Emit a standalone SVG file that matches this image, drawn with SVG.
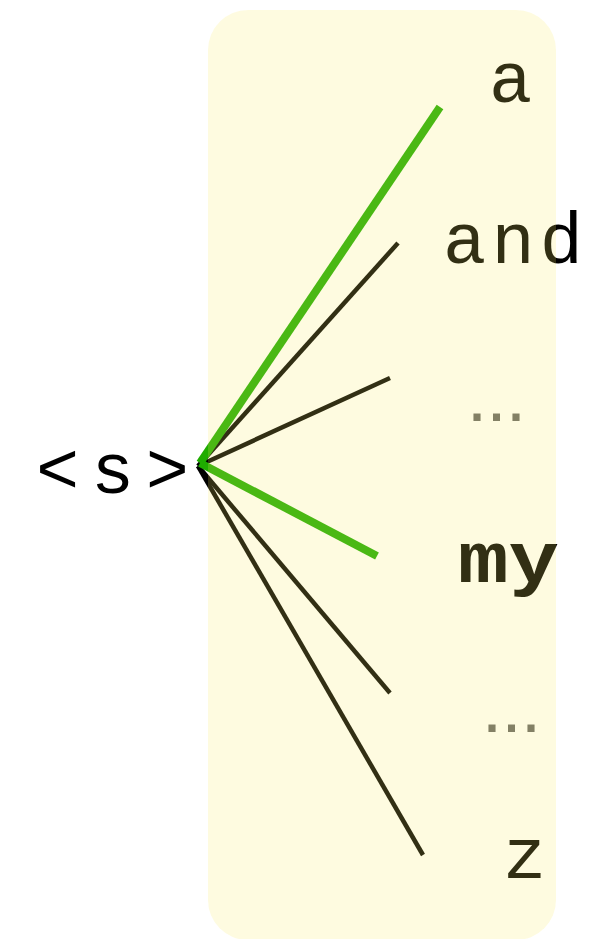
<svg xmlns="http://www.w3.org/2000/svg" width="591" height="939" viewBox="0 0 591 939">
<style>
.lbl{font-family:"Liberation Mono","Courier New",monospace;font-size:72px;fill:#000}
.dots{font-family:"Liberation Mono","Courier New",monospace;font-size:50px;font-weight:bold;fill:#666}
.e{stroke:#000;stroke-width:4.5;stroke-linecap:butt;fill:none}
.g{stroke:#1fac00;stroke-width:8;stroke-linecap:butt;fill:none}
</style>
<rect width="591" height="939" fill="#fff"/>
<g id="connectors">
<line class="e" x1="198" y1="466" x2="398" y2="243"/>
<line class="e" x1="198" y1="466" x2="390" y2="378"/>
<line class="e" x1="198" y1="466" x2="390" y2="693"/>
<line class="e" x1="198" y1="466" x2="423" y2="855"/>
<line class="g" x1="200" y1="463" x2="440" y2="107"/>
<line class="g" x1="200" y1="463" x2="377" y2="556"/>
</g>
<g id="start"><text class="lbl" x="36" y="493" font-size="64" textLength="153" lengthAdjust="spacing">&lt;s&gt;</text></g>
<g id="n-a"><text class="lbl" x="489" y="102">a</text></g>
<g id="n-and"><text class="lbl" x="443" y="263" textLength="140" lengthAdjust="spacing">and</text></g>
<g id="n-dots1"><text class="dots" x="462" y="421" textLength="69" lengthAdjust="spacing">...</text></g>
<g id="n-my"><text class="lbl" x="458" y="582" font-size="78" font-weight="bold" textLength="101" lengthAdjust="spacingAndGlyphs">my</text></g>
<g id="n-dots2"><text class="dots" x="477" y="732" textLength="69" lengthAdjust="spacing">...</text></g>
<g id="n-z"><text class="lbl" x="503" y="878">z</text></g>
<g id="box"><rect x="208" y="10" width="348" height="930" rx="40" fill="#faeb62" fill-opacity="0.2"/></g>
</svg>
